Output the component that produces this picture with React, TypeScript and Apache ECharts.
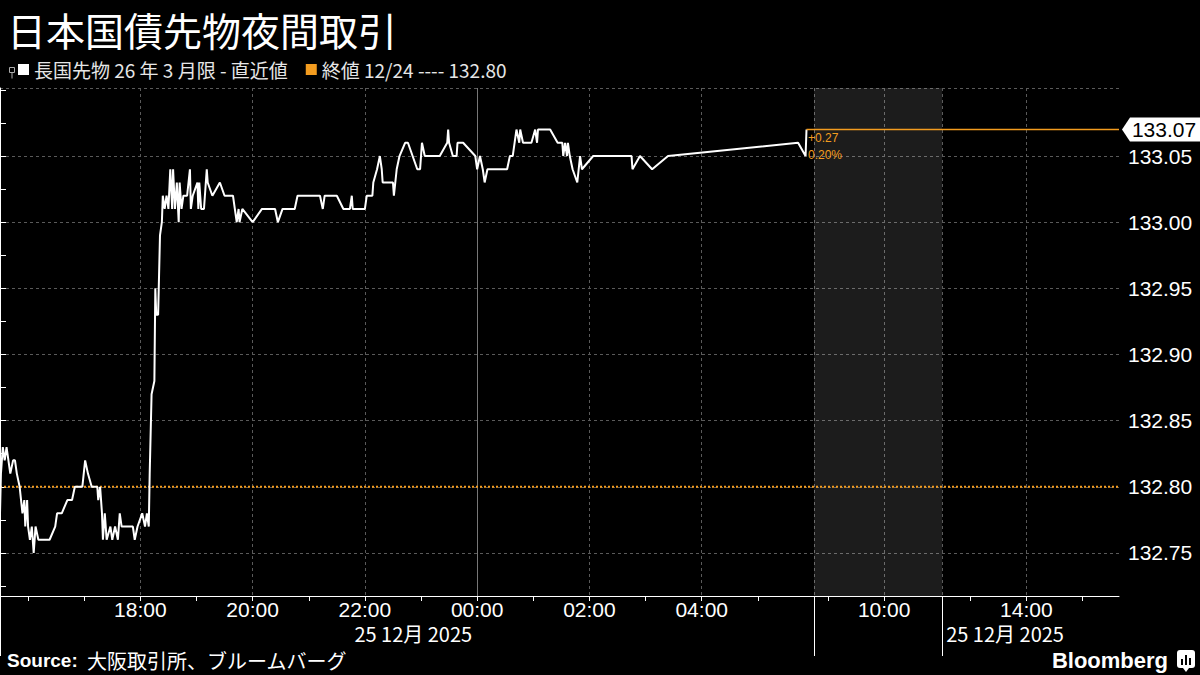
import React, { useEffect, useRef } from "react";
import * as echarts from "echarts";

const titleText = "日本国債先物夜間取引";
const seriesName = "長国先物 26 年 3 月限 - 直近値";
const prevCloseName = "終値 12/24 ---- 132.80";
const prevClose = 132.8;
const lastPrice = 133.07;
const changeText = "+0.27";
const changePctText = "0.20%";
const sourceText = "大阪取引所、ブルームバーグ";
const dateLabel = "25 12月 2025";

const times = [
  "15:30","15:31","15:33","15:35","15:37","15:41","15:44","15:46","15:48","15:51",
  "15:54","15:56","15:57","15:59","16:00","16:02","16:04","16:06","16:08","16:11",
  "16:23","16:29","16:31","16:36","16:42","16:47","16:50","16:58","17:01","17:04",
  "17:08","17:14","17:15","17:17","17:19","17:20","17:22","17:24","17:28","17:30",
  "17:33","17:36","17:38","17:40","17:52","17:54","17:57","18:02","18:05","18:07",
  "18:09","18:10","18:12","18:15","18:16","18:17","18:19","18:20","18:21","18:23",
  "18:24","18:26","18:28","18:30","18:32","18:34","18:35","18:37","18:39","18:41",
  "18:42","18:44","18:46","18:50","18:53","18:54","18:56","19:01","19:02","19:03",
  "19:05","19:08","19:11","19:12","19:17","19:25","19:30","19:39","19:41","19:43",
  "19:45","19:46","19:49","20:00","20:10","20:24","20:27","20:32","20:45","20:48",
  "21:12","21:15","21:17","21:30","21:37","21:44","21:46","21:47","22:00","22:02",
  "22:08","22:09","22:13","22:16","22:18","22:19","22:30","22:31","22:34","22:37",
  "22:43","22:46","22:56","22:59","23:01","23:04","23:20","23:28","23:29","23:30",
  "23:34","23:38","23:39","23:45","23:58","00:00","00:03","00:06","00:08","00:11",
  "00:32","00:35","00:38","00:40","00:42","00:45","00:46","00:49","00:58","01:02",
  "01:04","01:05","01:18","01:26","01:31","01:32","01:34","01:36","01:37","01:39",
  "01:42","01:47","01:50","01:52","02:04","02:45","02:46","02:54","03:07","03:24",
  "05:43","05:51","05:52",
];
const prices = [
  132.78,132.81,132.83,132.82,132.83,132.81,132.82,132.82,132.81,132.80,
  132.78,132.79,132.77,132.79,132.77,132.76,132.77,132.75,132.77,132.76,
  132.76,132.77,132.78,132.78,132.79,132.79,132.80,132.80,132.82,132.81,
  132.80,132.80,132.79,132.80,132.78,132.76,132.78,132.76,132.77,132.76,
  132.77,132.76,132.78,132.77,132.77,132.76,132.77,132.78,132.77,132.78,
  132.77,132.81,132.87,132.88,132.95,132.93,132.93,132.96,132.99,133.00,
  133.02,133.01,133.02,133.01,133.04,133.01,133.04,133.01,133.03,133.00,
  133.03,133.01,133.02,133.02,133.04,133.01,133.02,133.03,133.01,133.03,
  133.01,133.01,133.04,133.03,133.02,133.03,133.02,133.02,133.01,133.00,
  133.01,133.00,133.01,133.00,133.01,133.01,133.00,133.01,133.01,133.02,
  133.02,133.01,133.02,133.02,133.01,133.01,133.02,133.01,133.01,133.02,
  133.02,133.03,133.04,133.05,133.04,133.03,133.03,133.02,133.04,133.05,
  133.06,133.06,133.04,133.04,133.06,133.05,133.05,133.06,133.07,133.06,
  133.05,133.05,133.06,133.06,133.05,133.04,133.05,133.04,133.03,133.04,
  133.04,133.05,133.05,133.06,133.07,133.06,133.07,133.06,133.06,133.07,
  133.06,133.07,133.07,133.06,133.06,133.05,133.06,133.05,133.06,133.05,
  133.04,133.03,133.05,133.04,133.05,133.05,133.04,133.05,133.04,133.05,
  133.06,133.05,133.07,
];

const yLabelValues = [132.75, 132.8, 132.85, 132.9, 132.95, 133.0, 133.05];
const yMinorTickValues = [132.725, 132.775, 132.825, 132.875, 132.925, 132.975, 133.025, 133.075, 133.1];
const yMin = 132.7175;
const yMax = 133.1014;

const nightTickTimes = ["16:00","17:00","18:00","19:00","20:00","21:00","22:00","23:00","00:00","01:00","02:00","03:00","04:00","05:00"];
const dayTickTimes = ["09:00","10:00","13:00","14:00","15:00"];
const nightLabelTimes = ["18:00","20:00","22:00","00:00","02:00","04:00"];
const dayLabelTimes = ["10:00","14:00"];
const midnightTime = "00:00";

// session boundaries (minutes of day)
const NIGHT_START = 15 * 60 + 30;
const NIGHT_END = 6 * 60;
const MORNING_START = 8 * 60 + 45;
const MORNING_END = 11 * 60 + 2;
const AFTERNOON_START = 12 * 60 + 30;
const AXIS_END = 15 * 60 + 39;

const NIGHT_LEN = (NIGHT_END + 1440 - NIGHT_START) / 60;
const MORNING_LEN = (MORNING_END - MORNING_START) / 60;

const toMin = (s: string) => {
  const [h, m] = s.split(":").map(Number);
  return h * 60 + m;
};
const minToT = (m: number) => {
  if (m >= NIGHT_START) return (m - NIGHT_START) / 60;
  if (m <= NIGHT_END) return (m + 1440 - NIGHT_START) / 60;
  if (m <= MORNING_END) return NIGHT_LEN + (m - MORNING_START) / 60;
  return NIGHT_LEN + MORNING_LEN + (m - AFTERNOON_START) / 60;
};
const toT = (s: string) => minToT(toMin(s));
const afternoonT = (m: number) => NIGHT_LEN + MORNING_LEN + (m - AFTERNOON_START) / 60;
const tToClock = (t: number) => {
  let m: number;
  if (t <= NIGHT_LEN + 1e-6) m = (NIGHT_START + Math.round(t * 60)) % 1440;
  else if (t <= NIGHT_LEN + MORNING_LEN + 1e-6) m = MORNING_START + Math.round((t - NIGHT_LEN) * 60);
  else m = AFTERNOON_START + Math.round((t - NIGHT_LEN - MORNING_LEN) * 60);
  const hh = String(Math.floor(m / 60)).padStart(2, "0");
  const mm = String(m % 60).padStart(2, "0");
  return `${hh}:${mm}`;
};

const xMin = 0;
const xMax = afternoonT(AXIS_END);
const breakTs = [0, NIGHT_LEN, NIGHT_LEN + MORNING_LEN];

const ORANGE = "#f39c1f";
const GRID = "#5a5a5a";
const LABEL_FONT = "Liberation Sans";
const CJK_FONT = "Noto Sans CJK JP";

export default function App() {
  const ref = useRef<HTMLDivElement>(null);
  useEffect(() => {
    if (!ref.current) return;
    const chart = echarts.init(ref.current, undefined, { renderer: "svg" });
    const data = times.map((s, i) => [toT(s), prices[i]]);
    const tLast = toT(times[times.length - 1]);
    const hourTicks = [...nightTickTimes.map(toT), ...dayTickTimes.map(toT)];
    const labelTs = [...nightLabelTimes.map(toT), ...dayLabelTimes.map(toT)];
    const midT = toT(midnightTime);
    const gridTs = labelTs.filter((t) => Math.abs(t - midT) > 1e-6);

    const baseX = { type: "value", min: xMin, max: xMax, position: "bottom", gridIndex: 0 };
    const baseY = { type: "value", min: yMin, max: yMax, position: "right", gridIndex: 0 };

    const option: any = {
      animation: false,
      backgroundColor: "#000",
      title: {
        text: titleText,
        left: 7,
        top: 9,
        padding: 0,
        textStyle: { color: "#fff", fontSize: 39, lineHeight: 39, fontWeight: "normal", fontFamily: CJK_FONT },
      },
      legend: {
        data: [seriesName, prevCloseName],
        left: 18,
        top: 60,
        padding: 0,
        icon: "rect",
        itemWidth: 11,
        itemHeight: 11,
        itemGap: 18,
        selectedMode: false,
        textStyle: { color: "#e6e6e6", fontSize: 19, fontFamily: CJK_FONT },
      },
      grid: { left: 0, right: 81, top: 88, bottom: 79, containLabel: false },
      xAxis: [
        {
          ...baseX,
          axisLine: { show: true, lineStyle: { color: "#fff", width: 1 } },
          axisTick: { show: true, customValues: hourTicks, length: 5, lineStyle: { color: "#fff" } },
          axisLabel: {
            show: true,
            customValues: labelTs,
            formatter: (v: number) => tToClock(v),
            color: "#fff",
            fontSize: 21,
            lineHeight: 22,
            fontFamily: LABEL_FONT,
            margin: 2,
          },
          splitLine: { show: false },
        },
        {
          ...baseX,
          axisLine: { show: false },
          axisTick: { show: true, customValues: breakTs, length: 60, lineStyle: { color: "#fff" } },
          axisLabel: { show: false },
          splitLine: { show: true, lineStyle: { color: GRID, type: [3, 3], width: 1 } },
        },
        {
          ...baseX,
          axisLine: { show: false },
          axisTick: { show: false, customValues: gridTs },
          axisLabel: { show: false },
          splitLine: { show: true, lineStyle: { color: GRID, type: [3, 3], width: 1 } },
        },
        {
          ...baseX,
          axisLine: { show: false },
          axisTick: { show: false, customValues: [midT] },
          axisLabel: {
            show: true,
            customValues: [midT],
            formatter: () => dateLabel,
            align: "right",
            color: "#fff",
            fontSize: 20,
            lineHeight: 21,
            fontFamily: CJK_FONT,
            margin: 27,
            padding: [0, 5, 0, 0],
          },
          splitLine: { show: true, lineStyle: { color: "#777", type: "solid", width: 1 } },
        },
        {
          ...baseX,
          axisLine: { show: false },
          axisTick: { show: false },
          axisLabel: {
            show: true,
            customValues: [NIGHT_LEN + MORNING_LEN],
            formatter: () => dateLabel,
            align: "left",
            color: "#fff",
            fontSize: 20,
            lineHeight: 21,
            fontFamily: CJK_FONT,
            margin: 27,
            padding: [0, 0, 0, 4],
          },
          splitLine: { show: false },
        },
      ],
      yAxis: [
        {
          ...baseY,
          axisLine: { show: true, lineStyle: { color: "#fff", width: 1 } },
          axisTick: {
            show: true,
            customValues: [...yLabelValues, ...yMinorTickValues],
            length: 6,
            lineStyle: { color: "#fff" },
          },
          axisLabel: {
            show: true,
            customValues: yLabelValues,
            formatter: (v: number) => v.toFixed(2),
            color: "#fff",
            fontSize: 21,
            fontFamily: LABEL_FONT,
            margin: 9,
          },
          splitLine: { show: false },
        },
        {
          ...baseY,
          axisLine: { show: false },
          axisTick: { show: false, customValues: [...yLabelValues, yMax] },
          axisLabel: { show: false },
          splitLine: { show: true, lineStyle: { color: GRID, type: [3, 3], width: 1 } },
        },
      ],
      series: [
        {
          name: seriesName,
          type: "line",
          xAxisIndex: 0,
          yAxisIndex: 0,
          data,
          symbol: "none",
          showSymbol: false,
          lineStyle: { color: "#fff", width: 2 },
          itemStyle: { color: "#fff" },
          z: 4,
          markArea: {
            silent: true,
            itemStyle: { color: "rgba(255,255,255,0.11)" },
            data: [[{ xAxis: NIGHT_LEN }, { xAxis: NIGHT_LEN + MORNING_LEN }]],
          },
        },
        {
          name: prevCloseName,
          type: "line",
          xAxisIndex: 0,
          yAxisIndex: 0,
          data: [
            [xMin, prevClose],
            [xMax, prevClose],
          ],
          symbol: "none",
          lineStyle: { color: ORANGE, width: 2, type: [2, 2] },
          itemStyle: { color: ORANGE },
          z: 3,
        },
        {
          name: "last",
          type: "line",
          xAxisIndex: 0,
          yAxisIndex: 0,
          data: [
            [tLast, lastPrice],
            [xMax, lastPrice],
          ],
          symbol: "none",
          lineStyle: { color: ORANGE, width: 1.4 },
          itemStyle: { color: ORANGE },
          z: 5,
          markPoint: {
            silent: true,
            data: [
              {
                coord: [xMax, lastPrice],
                symbol: "path://M0,12 L8,0 L78,0 L78,24 L8,24 Z",
                symbolSize: [78, 24],
                symbolKeepAspect: false,
                symbolOffset: [42, 0],
                itemStyle: { color: "#fff" },
                label: {
                  show: true,
                  position: "inside",
                  formatter: () => lastPrice.toFixed(2),
                  color: "#000",
                  fontSize: 21,
                  fontFamily: LABEL_FONT,
                  offset: [3, 0],
                },
              },
              {
                coord: [tLast, lastPrice],
                symbol: "circle",
                symbolSize: 1,
                itemStyle: { color: "rgba(0,0,0,0)" },
                label: {
                  show: true,
                  position: [2, 0],
                  align: "left",
                  verticalAlign: "top",
                  formatter: () => `${changeText}\n${changePctText}`,
                  color: ORANGE,
                  fontSize: 12,
                  lineHeight: 17,
                  fontFamily: LABEL_FONT,
                },
              },
            ],
          },
        },
      ],
      graphic: [
        {
          type: "group",
          left: 7,
          top: 65,
          children: [
            { type: "rect", shape: { x: 0, y: 0, width: 5, height: 5 }, style: { fill: "none", stroke: "#aaa", lineWidth: 1 } },
            { type: "line", shape: { x1: 2.5, y1: 5, x2: 2.5, y2: 11 }, style: { stroke: "#aaa", lineWidth: 1 } },
          ],
        },
        {
          type: "text",
          x: 7,
          y: 660,
          style: {
            text: "Source:",
            fill: "#fff",
            font: `bold 19px "${LABEL_FONT}"`,
            verticalAlign: "middle",
          },
        },
        {
          type: "text",
          x: 87,
          y: 660,
          style: {
            text: sourceText,
            fill: "#fff",
            font: `20px "${CJK_FONT}"`,
            verticalAlign: "middle",
          },
        },
        {
          type: "text",
          x: 1168,
          y: 660,
          style: {
            text: "Bloomberg",
            fill: "#fff",
            font: `bold 22px "${LABEL_FONT}"`,
            align: "right",
            verticalAlign: "middle",
          },
        },
        {
          type: "group",
          x: 1177,
          y: 650,
          children: [
            { type: "rect", shape: { x: 0, y: 0, width: 18, height: 18, r: 3 }, style: { fill: "#fff" } },
            { type: "polygon", shape: { points: [[6, 18], [12, 18], [9, 22]] }, style: { fill: "#fff" } },
            { type: "rect", shape: { x: 4, y: 9, width: 2, height: 6 }, style: { fill: "#000" } },
            { type: "rect", shape: { x: 8, y: 5, width: 2, height: 10 }, style: { fill: "#000" } },
            { type: "rect", shape: { x: 12, y: 8, width: 2, height: 7 }, style: { fill: "#000" } },
          ],
        },
      ],
    };
    chart.setOption(option);
    return () => chart.dispose();
  }, []);
  return (
    <div
      ref={ref}
      style={{ position: "fixed", left: 0, top: 0, width: 1200, height: 675, background: "#000" }}
    />
  );
}
